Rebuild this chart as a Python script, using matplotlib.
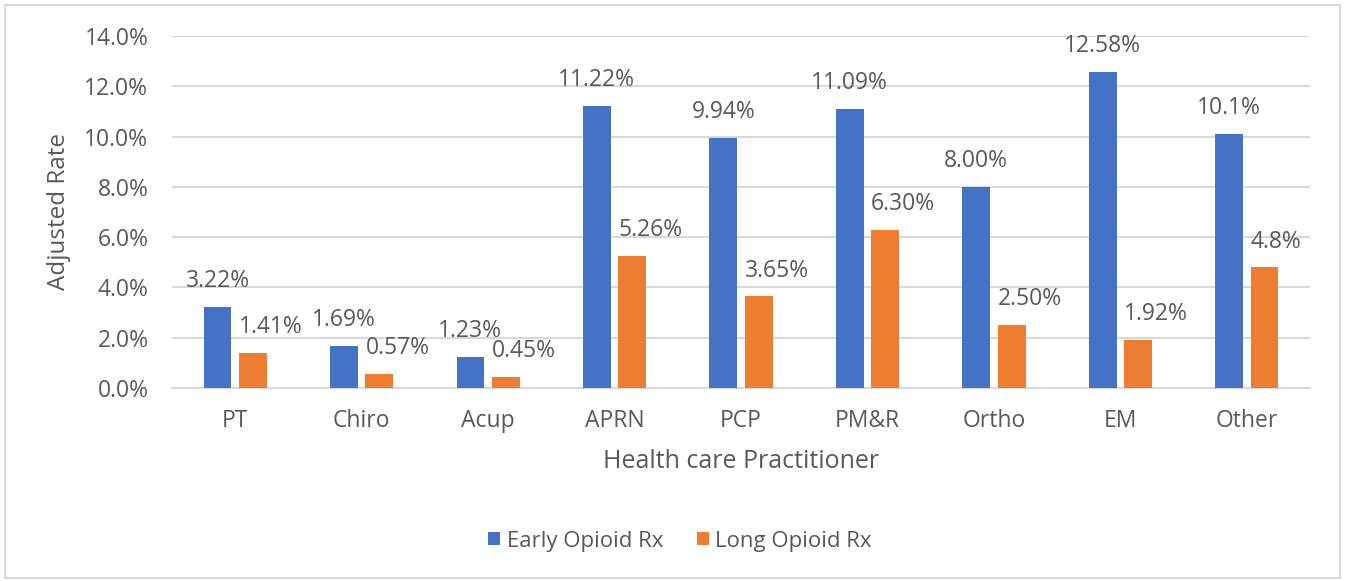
import matplotlib.pyplot as plt
from matplotlib.patches import Rectangle
from matplotlib.ticker import FuncFormatter
import numpy as np

categories = ["PT", "Chiro", "Acup", "APRN", "PCP", "PM&R", "Ortho", "EM", "Other"]
early_rx = [3.22, 1.69, 1.23, 11.22, 9.94, 11.09, 8.00, 12.58, 10.1]
long_rx = [1.41, 0.57, 0.45, 5.26, 3.65, 6.30, 2.50, 1.92, 4.8]
early_labels = ["3.22%", "1.69%", "1.23%", "11.22%", "9.94%", "11.09%", "8.00%", "12.58%", "10.1%"]
long_labels = ["1.41%", "0.57%", "0.45%", "5.26%", "3.65%", "6.30%", "2.50%", "1.92%", "4.8%"]

BLUE = "#4472C4"
ORANGE = "#ED7D31"
GRID = "#D9D9D9"
TEXT = "#595959"

plt.rcParams["font.family"] = ["Open Sans", "DejaVu Sans"]

fig = plt.figure(figsize=(13.45, 5.81), dpi=100)
ax = fig.add_axes([172 / 1345, 1 - 388 / 581, (1310 - 172) / 1345, (388 - 36) / 581])

x = np.arange(len(categories))
w = 0.22
off = 0.14
b1 = ax.bar(x - off, early_rx, w, color=BLUE, label="Early Opioid Rx", zorder=3)
b2 = ax.bar(x + off, long_rx, w, color=ORANGE, label="Long Opioid Rx", zorder=3)

# data labels: early centred over the bar, long aligned to the bar's left edge
for xi, v, s in zip(x, early_rx, early_labels):
    ax.annotate(s, (xi - off, v), xytext=(0, 18.5), textcoords="offset points",
                ha="center", va="center", fontsize=16.5, color=TEXT)
for xi, v, s in zip(x, long_rx, long_labels):
    ax.annotate(s, (xi + off - w / 2, v), xytext=(0, 18.5), textcoords="offset points",
                ha="left", va="center", fontsize=16.5, color=TEXT)

ax.set_xlim(-0.5, len(categories) - 0.5)
ax.set_ylim(0, 14)
ax.set_yticks(np.arange(0, 14.1, 2))
ax.yaxis.set_major_formatter(FuncFormatter(lambda v, p: f"{v:.1f}%"))
ax.set_xticks(x)
ax.set_xticklabels(categories)
ax.grid(axis="y", color=GRID, linewidth=1.5, zorder=0)
for side in ["top", "right", "left"]:
    ax.spines[side].set_visible(False)
ax.spines["bottom"].set_color(GRID)
ax.spines["bottom"].set_linewidth(1.5)
ax.tick_params(axis="both", length=0, labelsize=16.5, labelcolor=TEXT)
ax.tick_params(axis="y", pad=17)
ax.tick_params(axis="x", pad=15)

ax.set_xlabel("Health care Practitioner", fontsize=18, color=TEXT, labelpad=12)
ax.set_ylabel("Adjusted Rate", fontsize=17.5, color=TEXT, labelpad=10)

fig.legend(handles=[b1, b2], loc="center", bbox_to_anchor=(680 / 1345, 1 - 541 / 581),
           ncol=2, frameon=False, fontsize=16, handlelength=0.55, handleheight=0.55,
           handletextpad=0.3, columnspacing=1.5, labelcolor=TEXT)

fig.patches.append(Rectangle((5 / 1345, 3 / 581), 1335 / 1345, 573 / 581,
                             transform=fig.transFigure, fill=False,
                             edgecolor=GRID, linewidth=1.5))

fig.savefig("out.png", dpi=100)
